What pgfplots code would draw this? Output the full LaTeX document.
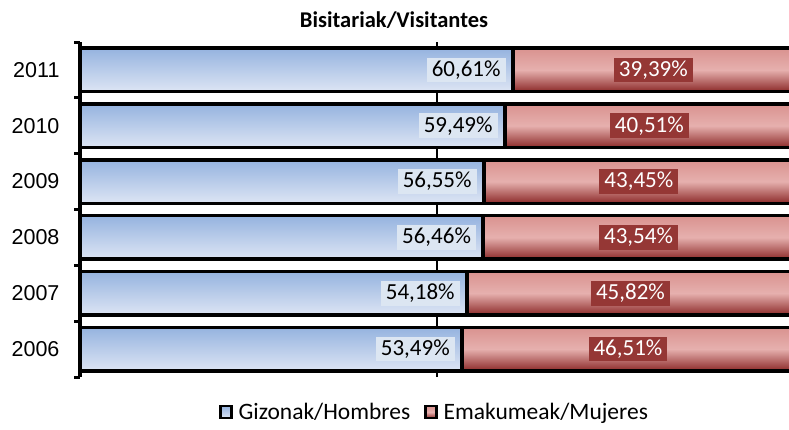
\documentclass[border=0pt]{standalone}
\usepackage{fontspec}
\setmainfont{Carlito}
\newfontfamily\arialfont{Liberation Sans}
\usepackage{pgfplots}
\pgfplotsset{compat=1.18}
\definecolor{bluetop}{HTML}{95B3DF}
\definecolor{bluebot}{HTML}{DDE5F4}
\definecolor{redtop}{HTML}{D9928F}
\definecolor{redmid}{HTML}{E6B0AE}
\definecolor{redbot}{HTML}{8C2A29}
\definecolor{bluebox}{HTML}{DCE6F2}
\definecolor{redbox}{HTML}{953735}
\pgfplotsset{
  redbar/.style={xbar, bar shift=0pt, bar width=43.5pt, draw=black, line width=3.5pt,
    top color=redtop, bottom color=redbot, middle color=redmid, forget plot},
  bluebar/.style={xbar, bar shift=0pt, bar width=43.5pt, draw=black, line width=3.5pt,
    top color=bluetop, bottom color=bluebot, forget plot},
}
\begin{document}
\begin{tikzpicture}
\path[use as bounding box] (0pt,0pt) rectangle (789pt,429pt);
\node[font=\bfseries\fontsize{22.5}{26}\selectfont] at (394pt,409pt) {Bisitariak/Visitantes};
\begin{axis}[at={(80pt,52pt)}, anchor=south west, scale only axis, width=709pt, height=335pt,
  xmin=0, xmax=99.3, ymin=-0.5, ymax=5.5,
  axis lines*=left,
  x axis line style={draw=none},
  y axis line style={line width=3.5pt, -},
  xtick={50}, xticklabels={}, major x tick style={draw=none},
  xmajorgrids, x grid style={black, line width=1.2pt},
  ytick={0,1,2,3,4,5}, yticklabels={2006,2007,2008,2009,2010,2011},
  major y tick style={draw=none},
  minor ytick={-0.5,0.5,1.5,2.5,3.5,4.5,5.5},
  minor y tick style={line width=3pt, black},
  minor tick length=6pt, major tick length=0pt,
  tick align=outside,
  yticklabel style={font=\arialfont\fontsize{21.5}{24}\selectfont, xshift=-17pt},
  legend image code/.code={\draw[#1, line width=2.5pt] (0pt,-6pt) rectangle (11pt,6pt);
     \path (16pt,0pt);},
  legend style={at={(0.5,-0.105)}, anchor=center, legend columns=2, draw=none,
    font=\fontsize{23.5}{26}\selectfont, fill=none,
    /tikz/every even column/.append style={column sep=12pt}},
  /pgf/number format/assume math mode=true,
]
% women (segment runs on to 100%)
\addplot[redbar] coordinates {(100,0)};
\addplot[redbar] coordinates {(100,1)};
\addplot[redbar] coordinates {(100,2)};
\addplot[redbar] coordinates {(100,3)};
\addplot[redbar] coordinates {(100,4)};
\addplot[redbar] coordinates {(100,5)};
% men
\addplot[bluebar] coordinates {(53.49,0)};
\addplot[bluebar] coordinates {(54.18,1)};
\addplot[bluebar] coordinates {(56.46,2)};
\addplot[bluebar] coordinates {(56.55,3)};
\addplot[bluebar] coordinates {(59.49,4)};
\addplot[bluebar] coordinates {(60.61,5)};
% men labels
\addplot[draw=none, forget plot, point meta=x, nodes near coords={\pgfmathprintnumber[fixed, fixed zerofill, precision=2, use comma]{\pgfplotspointmeta}\%},
  nodes near coords style={anchor=east, xshift=-7pt, fill=bluebox, text=black,
    font=\fontsize{23}{26}\selectfont, inner xsep=5pt, inner ysep=3pt}]
  coordinates {(53.49,0) (54.18,1) (56.46,2) (56.55,3) (59.49,4) (60.61,5)};
% women labels (centred in the red segment)
\addplot[draw=none, forget plot, point meta=explicit, nodes near coords={\pgfmathprintnumber[fixed, fixed zerofill, precision=2, use comma]{\pgfplotspointmeta}\%},
  nodes near coords style={anchor=center, fill=redbox, text=white,
    font=\fontsize{23}{26}\selectfont, inner xsep=5pt, inner ysep=3pt}]
  coordinates {(76.745,0) [46.51] (77.09,1) [45.82] (78.23,2) [43.54] (78.275,3) [43.45] (79.745,4) [40.51] (80.305,5) [39.39]};
\addlegendimage{top color=bluetop, bottom color=bluebot, draw=black}
\addlegendentry{Gizonak/Hombres}
\addlegendimage{top color=redtop, bottom color=redbot, middle color=redmid, draw=black}
\addlegendentry{Emakumeak/Mujeres}
\end{axis}
\end{tikzpicture}
\end{document}
